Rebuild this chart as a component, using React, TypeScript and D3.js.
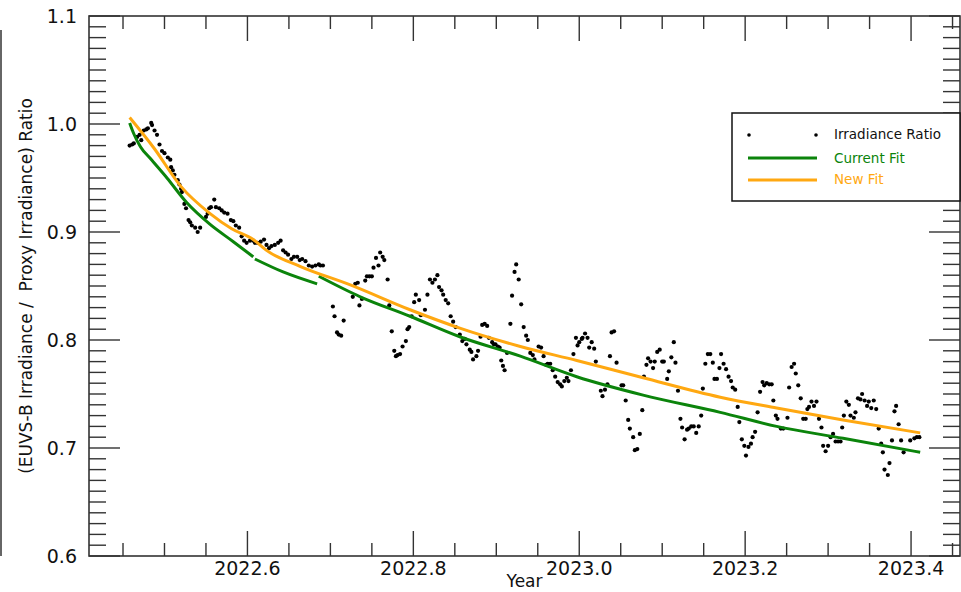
import * as d3 from "d3";

// daily EUVS-B / proxy irradiance ratio
const ratioYears = [
  2022.458, 2022.461, 2022.463, 2022.467, 2022.47, 2022.472, 2022.475, 2022.478, 2022.48, 2022.484,
  2022.485, 2022.488, 2022.491, 2022.494, 2022.497, 2022.5, 2022.504, 2022.507, 2022.508, 2022.51,
  2022.512, 2022.516, 2022.518, 2022.52, 2022.521, 2022.524, 2022.526, 2022.529, 2022.531, 2022.533,
  2022.537, 2022.54, 2022.543, 2022.55, 2022.552, 2022.554, 2022.556, 2022.56, 2022.562, 2022.566,
  2022.569, 2022.572, 2022.576, 2022.58, 2022.583, 2022.586, 2022.59, 2022.593, 2022.596, 2022.599,
  2022.603, 2022.607, 2022.609, 2022.612, 2022.616, 2022.62, 2022.623, 2022.626, 2022.629, 2022.633,
  2022.637, 2022.64, 2022.643, 2022.646, 2022.649, 2022.653, 2022.656, 2022.66, 2022.663, 2022.666,
  2022.67, 2022.674, 2022.678, 2022.682, 2022.686, 2022.688, 2022.691,
  2022.703, 2022.705, 2022.708, 2022.71, 2022.713, 2022.716, 2022.727, 2022.73, 2022.733, 2022.735,
  2022.738, 2022.742, 2022.744, 2022.747, 2022.75, 2022.752, 2022.755, 2022.758, 2022.76, 2022.763,
  2022.765, 2022.769, 2022.771, 2022.774, 2022.777, 2022.779, 2022.781, 2022.784, 2022.787, 2022.791,
  2022.793, 2022.795, 2022.798, 2022.801, 2022.803, 2022.807, 2022.809, 2022.814, 2022.817, 2022.82,
  2022.823, 2022.826, 2022.829, 2022.831, 2022.834, 2022.836, 2022.839, 2022.842, 2022.845, 2022.848,
  2022.851, 2022.856, 2022.859, 2022.862, 2022.864, 2022.868, 2022.87, 2022.872, 2022.876, 2022.878,
  2022.881, 2022.883, 2022.886, 2022.889, 2022.891, 2022.895, 2022.897, 2022.899, 2022.902, 2022.904,
  2022.906, 2022.908, 2022.91, 2022.913, 2022.917, 2022.919, 2022.922, 2022.924, 2022.927, 2022.93,
  2022.933, 2022.936, 2022.938,
  2022.941, 2022.944, 2022.946, 2022.951, 2022.954, 2022.957, 2022.96, 2022.962, 2022.965, 2022.968,
  2022.971, 2022.974, 2022.977, 2022.979, 2022.982, 2022.985, 2022.987, 2022.99, 2022.993, 2022.996,
  2022.998, 2023.0, 2023.003, 2023.004, 2023.007, 2023.01, 2023.012, 2023.015, 2023.018, 2023.02,
  2023.026, 2023.028, 2023.031, 2023.034, 2023.037, 2023.039, 2023.042, 2023.045, 2023.051, 2023.053,
  2023.056, 2023.059, 2023.061, 2023.065, 2023.067, 2023.07, 2023.073, 2023.076, 2023.078, 2023.081,
  2023.083, 2023.086, 2023.089, 2023.091, 2023.094, 2023.097, 2023.1, 2023.102, 2023.106, 2023.108,
  2023.111, 2023.114, 2023.116, 2023.119, 2023.122, 2023.124, 2023.127, 2023.13, 2023.132, 2023.135,
  2023.138, 2023.141, 2023.144, 2023.147, 2023.149, 2023.152, 2023.155, 2023.158,
  2023.161, 2023.163, 2023.166, 2023.169, 2023.171, 2023.174, 2023.177, 2023.18, 2023.183, 2023.185,
  2023.188, 2023.191, 2023.193, 2023.196, 2023.199, 2023.201, 2023.204, 2023.207, 2023.209, 2023.212,
  2023.215, 2023.218, 2023.221, 2023.223, 2023.226, 2023.229, 2023.232, 2023.234, 2023.237, 2023.239,
  2023.243, 2023.246, 2023.251, 2023.253, 2023.256, 2023.259, 2023.261, 2023.264, 2023.267, 2023.27,
  2023.273, 2023.275, 2023.277, 2023.28, 2023.283, 2023.286, 2023.289, 2023.292, 2023.294, 2023.297,
  2023.3, 2023.303, 2023.306, 2023.309, 2023.312, 2023.315, 2023.317, 2023.319, 2023.322, 2023.325,
  2023.327, 2023.331, 2023.333, 2023.336, 2023.339, 2023.341, 2023.344, 2023.347, 2023.349, 2023.352,
  2023.355, 2023.358, 2023.361, 2023.364, 2023.366, 2023.368, 2023.372, 2023.374, 2023.377, 2023.38,
  2023.382, 2023.385, 2023.388, 2023.391, 2023.399, 2023.404, 2023.407, 2023.41,
];
const ratioValues = [
  0.98, 0.981, 0.982, 0.988, 0.99, 0.985, 0.994, 0.995, 0.996, 1.001,
  0.999, 0.994, 0.99, 0.981, 0.975, 0.973, 0.969, 0.967, 0.96, 0.957,
  0.953, 0.948, 0.944, 0.94, 0.937, 0.926, 0.922, 0.911, 0.909, 0.906,
  0.904, 0.9, 0.904, 0.914, 0.917, 0.922, 0.923, 0.93, 0.923, 0.922,
  0.92, 0.918, 0.917, 0.911, 0.91, 0.906, 0.904, 0.896, 0.892, 0.89,
  0.892, 0.892, 0.89, 0.89, 0.891, 0.893, 0.888, 0.885, 0.887, 0.888,
  0.89, 0.892, 0.883, 0.881, 0.879, 0.875, 0.877, 0.877, 0.874, 0.875,
  0.873, 0.869, 0.868, 0.869, 0.87, 0.869, 0.869,
  0.831, 0.822, 0.807, 0.805, 0.804, 0.818, 0.84, 0.852, 0.853, 0.832,
  0.838, 0.855, 0.859, 0.859, 0.859, 0.867, 0.876, 0.869, 0.881, 0.877,
  0.874, 0.856, 0.832, 0.808, 0.79, 0.785, 0.786, 0.787, 0.794, 0.799,
  0.81, 0.812, 0.822, 0.835, 0.842, 0.837, 0.823, 0.828, 0.842, 0.856,
  0.853, 0.856, 0.86, 0.849, 0.846, 0.842, 0.837, 0.834, 0.822, 0.817,
  0.812, 0.805, 0.799, 0.801, 0.796, 0.791, 0.789, 0.782, 0.785, 0.79,
  0.803, 0.814, 0.815, 0.813, 0.802, 0.798, 0.796, 0.796, 0.794, 0.793,
  0.781, 0.776, 0.772, 0.788, 0.815, 0.841, 0.863, 0.87, 0.856, 0.833,
  0.812, 0.804, 0.8,
  0.788, 0.786, 0.782, 0.794, 0.793, 0.785, 0.777, 0.778, 0.778, 0.772,
  0.766, 0.761, 0.759, 0.757, 0.762, 0.765, 0.762, 0.772, 0.787, 0.802,
  0.795, 0.798, 0.801, 0.802, 0.806, 0.802, 0.793, 0.798, 0.792, 0.78,
  0.753, 0.748, 0.754, 0.759, 0.785, 0.807, 0.808, 0.779, 0.758, 0.758,
  0.744, 0.726, 0.718, 0.71, 0.698, 0.699, 0.713, 0.735, 0.766, 0.777,
  0.783, 0.78, 0.774, 0.78, 0.789, 0.791, 0.78, 0.78, 0.764, 0.771,
  0.784, 0.798, 0.779, 0.753, 0.727, 0.719, 0.708, 0.717, 0.718, 0.72,
  0.72, 0.714, 0.72, 0.73, 0.755, 0.778, 0.787, 0.787,
  0.779, 0.764, 0.764, 0.774, 0.787, 0.778, 0.773, 0.766, 0.762, 0.756,
  0.754, 0.738, 0.724, 0.708, 0.702, 0.693, 0.701, 0.704, 0.71, 0.715,
  0.733, 0.752, 0.761, 0.758, 0.76, 0.759, 0.759, 0.744, 0.73, 0.727,
  0.718, 0.718, 0.728, 0.756, 0.775, 0.778, 0.769, 0.758, 0.746, 0.727,
  0.727, 0.736, 0.738, 0.743, 0.739, 0.743, 0.727, 0.719, 0.702, 0.697,
  0.702, 0.71, 0.713, 0.706, 0.706, 0.706, 0.719, 0.73, 0.743, 0.74,
  0.73, 0.728, 0.733, 0.746, 0.745, 0.75, 0.744, 0.739, 0.743, 0.737,
  0.744, 0.736, 0.718, 0.704, 0.696, 0.68, 0.675, 0.686, 0.707, 0.734,
  0.739, 0.722, 0.707, 0.696, 0.707, 0.709, 0.71, 0.71,
];

// new fit (orange)
const newFitYears = [
  2022.458, 2022.487, 2022.52, 2022.555, 2022.581, 2022.607, 2022.623, 2022.664, 2022.724,
  2022.796, 2022.856, 2022.929, 2022.997, 2023.077, 2023.17, 2023.238, 2023.318, 2023.411,
];
const newFitValues = [
  1.006, 0.978, 0.942, 0.917, 0.903, 0.893, 0.883, 0.868, 0.851,
  0.828, 0.811, 0.794, 0.781, 0.765, 0.747, 0.737, 0.726, 0.714,
];

// current fit (green), three pieces
const currentFitYears = [
  2022.458, 2022.463, 2022.471, 2022.483, 2022.503, 2022.527, 2022.555, 2022.583, 2022.607,
  2022.609, 2022.643, 2022.684,
  2022.686, 2022.736, 2022.796, 2022.856, 2022.929, 2022.997, 2023.077, 2023.17, 2023.238, 2023.318, 2023.411,
];
const currentFitValues = [
  1.001, 0.991, 0.979, 0.968, 0.95, 0.927, 0.907, 0.891, 0.877,
  0.875, 0.863, 0.852,
  0.859, 0.84, 0.822, 0.803, 0.785, 0.766, 0.749, 0.733, 0.72, 0.709, 0.696,
];
const currentFitPiece = [
  0, 0, 0, 0, 0, 0, 0, 0, 0,
  1, 1, 1,
  2, 2, 2, 2, 2, 2, 2, 2, 2, 2, 2,
];

const xTickLabels = ["2022.6", "2022.8", "2023.0", "2023.2", "2023.4"];
const yTickLabels = ["0.6", "0.7", "0.8", "0.9", "1.0", "1.1"];

const GREEN = "#0b840b";
const ORANGE = "#ffa811";
const AXIS = "#333";
const FONT = "DejaVu Sans, sans-serif";

export default function App() {
  const W = 961;
  const H = 592;
  const left = 89,
    right = 960,
    top = 16,
    bottom = 556;

  const x = d3.scaleLinear().domain([2022.409, 2023.459]).range([left, right]);
  const y = d3.scaleLinear().domain([0.6, 1.1]).range([bottom, top]);

  const xMinor = d3.range(0, 21).map((i) => 2022.45 + i * 0.05);
  const yMinor = d3.range(0, 51).map((i) => 0.6 + i * 0.01);
  const xMajor = xTickLabels.map(Number);
  const yMajor = yTickLabels.map(Number);

  const fitLine = d3
    .line<[number, number]>()
    .x((d) => x(d[0]))
    .y((d) => y(d[1]))
    .curve(d3.curveMonotoneX);

  const newFitPts = newFitYears.map((t, i) => [t, newFitValues[i]] as [number, number]);
  const pieces = d3.groups(
    currentFitYears.map((t, i) => ({ t, v: currentFitValues[i], p: currentFitPiece[i] })),
    (d) => d.p,
  );

  return (
    <svg
      width={W}
      height={H}
      style={{ position: "absolute", left: 0, top: 0, background: "#fff" }}
      fontFamily={FONT}
    >
      {/* edge of the neighbouring panel */}
      <line x1={1} x2={1} y1={30} y2={bottom} stroke={AXIS} strokeWidth={1.5} />

      {/* data */}
      {ratioYears.map((t, i) => (
        <circle key={i} cx={x(t)} cy={y(ratioValues[i])} r={2.1} fill="#000" />
      ))}

      {pieces.map(([p, pts]) => (
        <path
          key={p}
          d={fitLine(pts.map((d) => [d.t, d.v] as [number, number])) ?? ""}
          fill="none"
          stroke={GREEN}
          strokeWidth={3}
        />
      ))}
      <path d={fitLine(newFitPts) ?? ""} fill="none" stroke={ORANGE} strokeWidth={3} />

      {/* frame */}
      <rect
        x={left}
        y={top}
        width={right - left}
        height={bottom - top}
        fill="none"
        stroke={AXIS}
        strokeWidth={1.6}
      />

      {/* x ticks, bottom and top */}
      {xMinor.map((t, i) => {
        const major = xMajor.some((m) => Math.abs(m - t) < 1e-6);
        const len = major ? 25 : 13;
        return (
          <g key={"xt" + i} stroke={AXIS} strokeWidth={1.4}>
            <line x1={x(t)} x2={x(t)} y1={bottom} y2={bottom - len} />
            <line x1={x(t)} x2={x(t)} y1={top} y2={top + len} />
          </g>
        );
      })}
      {/* y ticks, left and right */}
      {yMinor.map((v, i) => {
        const major = yMajor.some((m) => Math.abs(m - v) < 1e-6);
        const len = major ? 31 : 17;
        return (
          <g key={"yt" + i} stroke={AXIS} strokeWidth={1.4}>
            <line x1={left} x2={left + len} y1={y(v)} y2={y(v)} />
            <line x1={right} x2={right - len} y1={y(v)} y2={y(v)} />
          </g>
        );
      })}

      {xTickLabels.map((lab) => (
        <text key={lab} x={x(+lab)} y={575} textAnchor="middle" fontSize={19} fill="#111">
          {lab}
        </text>
      ))}
      {yTickLabels.map((lab) => (
        <text
          key={lab}
          x={77}
          y={y(+lab)}
          dy="0.36em"
          textAnchor="end"
          fontSize={19}
          fill="#111"
        >
          {lab}
        </text>
      ))}

      <text x={(left + right) / 2} y={587} textAnchor="middle" fontSize={17} fill="#111">
        Year
      </text>
      <text
        transform={`translate(32,${(top + bottom) / 2}) rotate(-90)`}
        textAnchor="middle"
        fontSize={17}
        fill="#111"
        style={{ whiteSpace: "pre" }}
      >
        {"(EUVS-B Irradiance /  Proxy Irradiance) Ratio"}
      </text>

      {/* legend */}
      <g>
        <rect x={732} y={113} width={228} height={88} fill="#fff" stroke="#111" strokeWidth={1.5} />
        <circle cx={749} cy={135} r={1.8} fill="#000" />
        <circle cx={816} cy={135} r={1.8} fill="#000" />
        <text x={834} y={139} fontSize={13.5} fill="#111">
          Irradiance Ratio
        </text>
        <line x1={748} x2={817} y1={158} y2={158} stroke={GREEN} strokeWidth={3} />
        <text x={834} y={163} fontSize={13.5} fill={GREEN}>
          Current Fit
        </text>
        <line x1={748} x2={817} y1={180} y2={180} stroke={ORANGE} strokeWidth={3} />
        <text x={834} y={184} fontSize={13.5} fill={ORANGE}>
          New Fit
        </text>
      </g>
    </svg>
  );
}
